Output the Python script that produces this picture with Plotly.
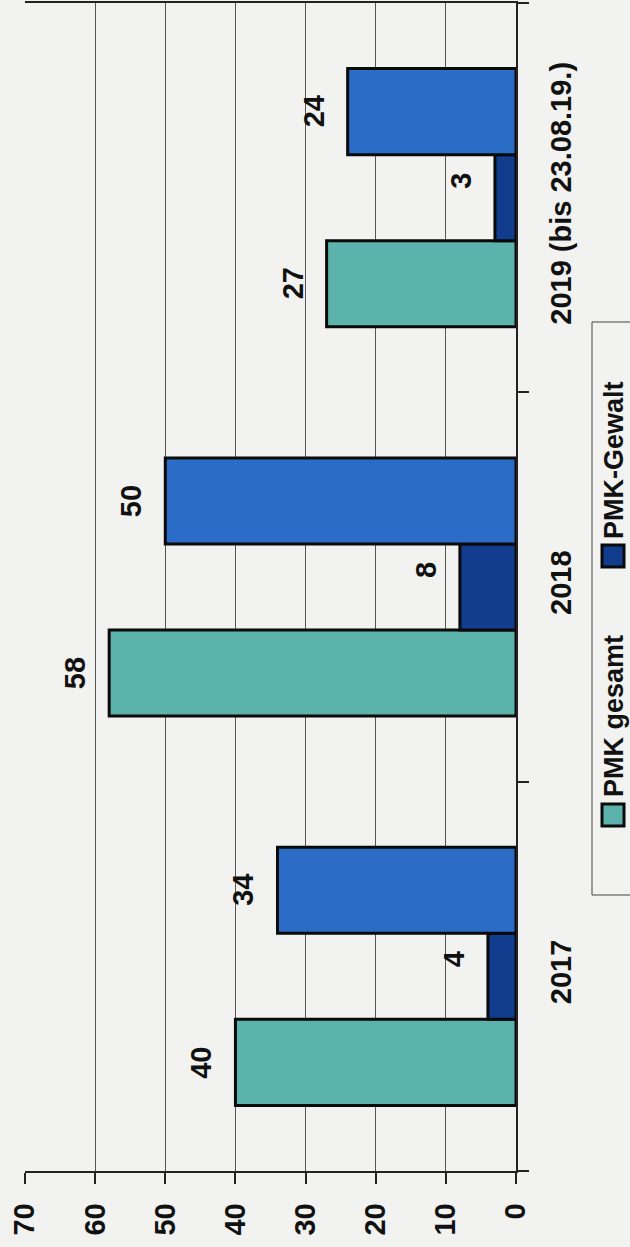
import plotly.graph_objects as go

# ── Data ───────────────────────────────────────────────────────────────────
years = ['2017', '2018', '2019 (bis 23.08.19.)']
pmk_gesamt = [40, 58, 27]
pmk_gewalt = [4, 8, 3]
third_series = [34, 50, 24]

series_names = ['PMK gesamt', 'PMK-Gewalt', '']
series_values = [pmk_gesamt, pmk_gewalt, third_series]
series_colors = ['#5bb3ab', '#123c8e', '#2b6cc6']
label_lift = [0, 17, 0]   # px, the small navy labels sit a bit higher

value_ticks = [0, 10, 20, 30, 40, 50, 60, 70]

# ── Layout defaults ────────────────────────────────────────────────────────
BG = '#f2f2f0'
FONT = 'Arial, Liberation Sans, sans-serif'
BARGAP = 0.337

# page geometry (px) of the plot area
W, H = 630, 1247
L, R, T, B = 25, 114, 3, 76
plot_w = W - L - R
plot_h = H - T - B


def px_x(p):
    return (p - L) / plot_w


def px_y(p):
    return (H - B - p) / plot_h


fig = go.Figure()
for name, vals, col in zip(series_names, series_values, series_colors):
    fig.add_trace(go.Bar(
        x=vals,
        y=years,
        orientation='h',
        name=name,
        marker=dict(color=col, line=dict(color='#0a0a0a', width=3)),
        showlegend=False,
    ))

# value labels, rotated, just beyond the bar end
bar_w = (1 - BARGAP) / len(series_values)
annotations = []
for k, vals in enumerate(series_values):
    for i, v in enumerate(vals):
        annotations.append(dict(
            x=v, y=i + (k - 1) * bar_w,
            xref='x', yref='y',
            text=str(v), showarrow=False,
            textangle=-90, xanchor='right', yanchor='middle',
            xshift=-16, yshift=label_lift[k],
            font=dict(size=29, color='#111111', family=FONT, weight='bold'),
        ))

# hand-drawn legend (rotated like the rest of the page)
shapes = [dict(
    type='rect', xref='paper', yref='paper',
    x0=px_x(592), x1=px_x(640), y0=px_y(895), y1=px_y(322),
    line=dict(color='#444444', width=1), fillcolor=BG, layer='below',
)]
legend_items = [
    ('PMK gesamt', series_colors[0], 826, 799),
    ('PMK-Gewalt', series_colors[1], 567, 541),
]
for label, col, sq_bottom, txt_bottom in legend_items:
    shapes.append(dict(
        type='rect', xref='paper', yref='paper',
        x0=px_x(602), x1=px_x(624), y0=px_y(sq_bottom), y1=px_y(sq_bottom - 22),
        line=dict(color='#0a0a0a', width=3), fillcolor=col,
    ))
    annotations.append(dict(
        x=px_x(614), y=px_y(txt_bottom), xref='paper', yref='paper',
        text=label, showarrow=False, textangle=-90,
        xanchor='center', yanchor='bottom',
        font=dict(size=27, color='#111111', family=FONT, weight='bold'),
    ))

fig.update_layout(
    width=W, height=H,
    margin=dict(l=L, r=R, t=T, b=B, pad=0),
    paper_bgcolor=BG,
    plot_bgcolor=BG,
    barmode='group',
    bargap=BARGAP,
    bargroupgap=0,
    showlegend=False,
    font=dict(family=FONT, color='#111111'),
    annotations=annotations,
    shapes=shapes,
)
fig.update_xaxes(
    range=[70, 0],
    automargin=False,
    tickvals=value_ticks,
    tickangle=-90,
    tickfont=dict(size=29, family=FONT, weight='bold', color='#111111'),
    showgrid=True, gridcolor='#555555', gridwidth=1,
    showline=True, linecolor='#222222', linewidth=1.5, mirror=True,
    ticks='outside', ticklen=11, tickcolor='#222222', tickwidth=1.5,
    ticklabelstandoff=8,
    zeroline=False,
)
fig.update_yaxes(
    type='category',
    automargin=False,
    side='right',
    tickangle=-90,
    tickfont=dict(size=29, family=FONT, weight='bold', color='#111111'),
    showgrid=False,
    showline=True, linecolor='#222222', linewidth=1.5,
    ticks='outside', tickson='boundaries', ticklen=11,
    tickcolor='#222222', tickwidth=1.5,
    ticklabelstandoff=18,
)

# drop the browser's default page margin so the figure fills the window
fig.write_html(
    "out.html",
    config={'displayModeBar': False},
    post_script="document.body.style.margin='0';",
)
